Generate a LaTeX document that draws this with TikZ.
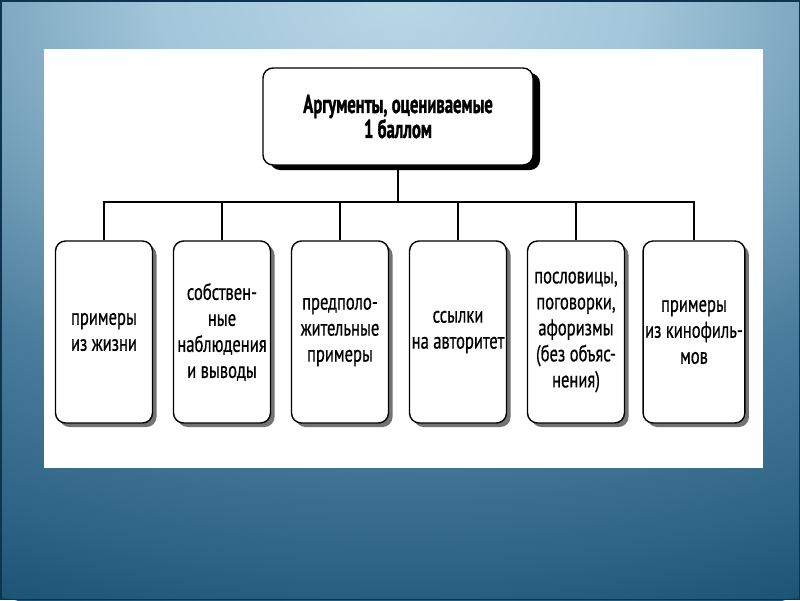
\documentclass[tikz,border=0pt]{standalone}
\usepackage{fontspec}
\setmainfont[FakeStretch=0.72, FakeBold=0.6]{PT Sans}
\newfontfamily\headfont[FakeStretch=0.64, FakeBold=1.2]{PT Sans}
\usetikzlibrary{shadows, positioning, calc}
\definecolor{slideA}{HTML}{B8D6E6}
\definecolor{slideB}{HTML}{A2C6DA}
\definecolor{slideC}{HTML}{4A7D9C}
\definecolor{slideD}{HTML}{2D6385}
\definecolor{slideE}{HTML}{134A6A}
\definecolor{slideEdge}{HTML}{0D3550}
\pgfdeclareradialshading{slidebg}{\pgfpoint{0bp}{0bp}}{color(0bp)=(slideA); color(6bp)=(slideB); color(16bp)=(slideC); color(22bp)=(slideD); color(27bp)=(slideE); color(50bp)=(slideE)}

\begin{document}
\begin{tikzpicture}[x=1pt, y=-1pt,
    argbox/.style={draw, line width=1.4pt, rounded corners=10pt, fill=white, align=center},
    headbox/.style={argbox, minimum width=270pt, minimum height=97pt,
        font=\headfont\fontsize{26}{25}\selectfont\bfseries,
        drop shadow={shadow xshift=7pt, shadow yshift=-5pt, fill=black, opacity=1}},
    kindbox/.style={argbox, minimum width=97pt, minimum height=182pt, inner sep=2pt,
        font=\fontsize{23}{26}\selectfont,
        drop shadow={shadow xshift=4pt, shadow yshift=-4pt, fill=black!55, opacity=1}},
    link/.style={line width=1.2pt}]
    % Slide background
    \useasboundingbox (0,0) rectangle (800,600);
    \begin{scope}
        \clip (0,0) rectangle (800,600);
        \fill[slideE] (0,0) rectangle (800,600);
        \shade[shading=slidebg] (400,0) ellipse [x radius=1000pt, y radius=650pt];
    \end{scope}
    \draw[slideEdge, line width=1.5pt] (0.75,0.75) rectangle (799.25,599.25);
    \fill[white] (44,49) rectangle (763,468);

    % Top box
    \node[headbox] (arg) at (398,116.5) {Аргументы, оцениваемые\\1 баллом};

    % Kinds of arguments
    \foreach \i/\txt in {1/{примеры\\из жизни},
                         2/{собствен-\\ные\\наблюдения\\и выводы},
                         3/{предполо-\\жительные\\примеры},
                         4/{ссылки\\на авторитет},
                         5/{пословицы,\\поговорки,\\афоризмы\\(без объяс-\\нения)},
                         6/{примеры\\из кинофиль-\\мов}} {
        \node[kindbox] (k\i) at ({104+118*(\i-1)},332) {\txt};
    }

    % Connectors
    \coordinate (bus) at (0,202);
    \draw[link] (arg.south) -- (arg.south |- bus);
    \draw[link] (k1.north) -- (k1.north |- bus) -- (k6.north |- bus) -- (k6.north);
    \foreach \i in {2,...,5} {
        \draw[link] (k\i.north) -- (k\i.north |- bus);
    }
\end{tikzpicture}
\end{document}
